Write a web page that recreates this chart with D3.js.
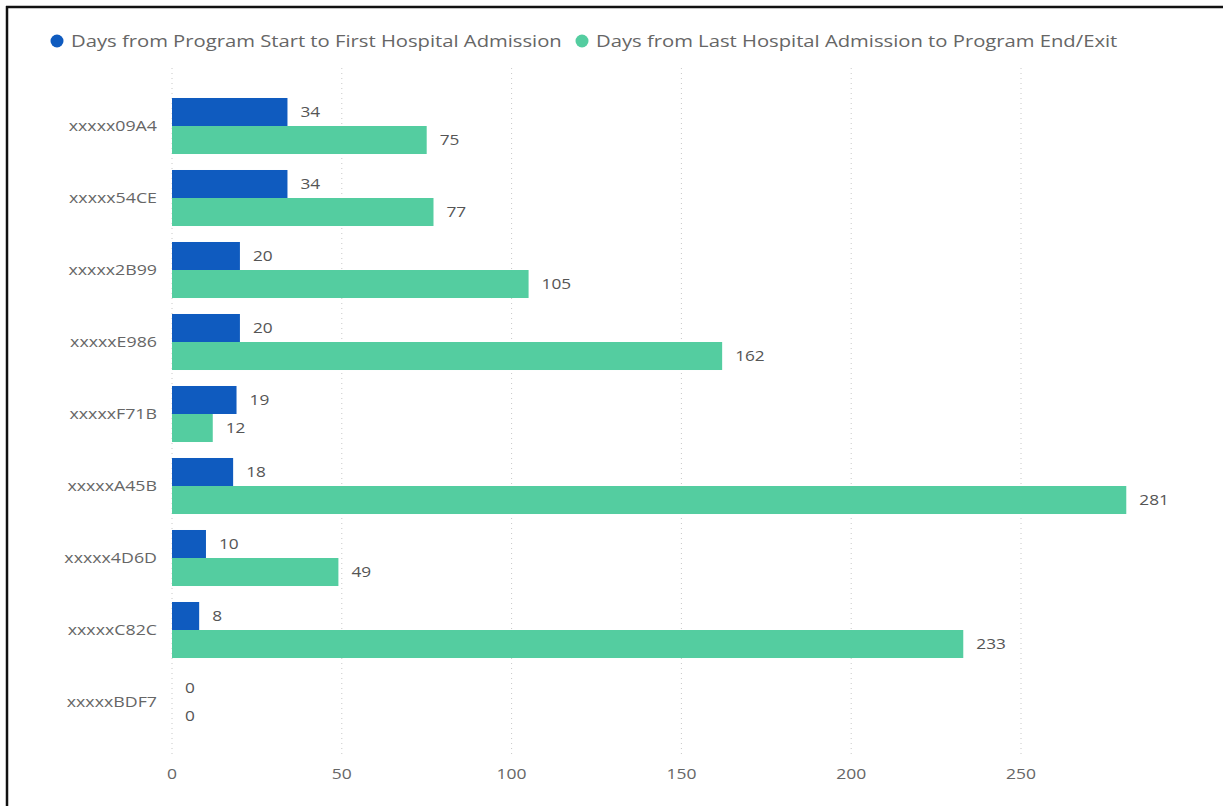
<!DOCTYPE html>
<html>
<head>
  <meta charset="utf-8">
  <title>Hospital admission days</title>
  <script src="https://d3js.org/d3.v7.min.js"></script>
  <style>
    body { margin: 0; background: #fff; }
    svg { display: block; font-family: "Segoe UI", "Open Sans", "Noto Sans", sans-serif; }
  </style>
</head>
<body>
<div id="chart"></div>
<script>
  // data
  const patients = ['xxxxx09A4', 'xxxxx54CE', 'xxxxx2B99', 'xxxxxE986', 'xxxxxF71B',
                    'xxxxxA45B', 'xxxxx4D6D', 'xxxxxC82C', 'xxxxxBDF7'];
  const startToFirst = [34, 34, 20, 20, 19, 18, 10, 8, 0];
  const lastToEnd = [75, 77, 105, 162, 12, 281, 49, 233, 0];
  const seriesNames = ['Days from Program Start to First Hospital Admission',
                       'Days from Last Hospital Admission to Program End/Exit'];
  const xTicks = [0, 50, 100, 150, 200, 250];

  const colors = ['#0f5bbf', '#54cda0'];
  const width = 1223, height = 806;
  const margin = { top: 90, right: 97, bottom: 68, left: 172 };

  const svg = d3.select('#chart').append('svg')
    .attr('width', width)
    .attr('height', height);

  // the screenshot is a bit stretched sideways, so text gets a horizontal scale
  const place = (sel, fx, fy, sx) => sel
    .attr('transform', (d, i) => `translate(${fx(d, i)},${fy(d, i)}) scale(${sx},1)`);

  // frame lines (top and left)
  svg.append('line').attr('x1', 6).attr('x2', width).attr('y1', 7).attr('y2', 7)
    .attr('stroke', '#111').attr('stroke-width', 2.5);
  svg.append('line').attr('x1', 7).attr('x2', 7).attr('y1', 6).attr('y2', height)
    .attr('stroke', '#111').attr('stroke-width', 2.5);

  const x = d3.scaleLinear().domain([0, 250]).range([margin.left, 1021]);
  const y = d3.scaleBand().domain(patients)
    .range([margin.top, height - margin.bottom]).paddingInner(0.222).paddingOuter(0.111);
  const sub = d3.scaleBand().domain([0, 1]).range([0, y.bandwidth()]);

  // grid
  svg.append('g').selectAll('line').data(xTicks).join('line')
    .attr('x1', d => x(d)).attr('x2', d => x(d))
    .attr('y1', 68).attr('y2', 757)
    .attr('stroke', '#c8c8c8').attr('stroke-dasharray', '1,4');

  svg.append('g').selectAll('text').data(xTicks).join('text')
    .call(place, d => x(d), () => 779, 1.25)
    .attr('text-anchor', 'middle')
    .attr('font-size', 14).attr('fill', '#666')
    .text(d => d);

  // category labels
  svg.append('g').selectAll('text').data(patients).join('text')
    .call(place, () => 157, d => y(d) + y.bandwidth() / 2 + 5, 1.27)
    .attr('text-anchor', 'end')
    .attr('font-size', 14).attr('fill', '#666')
    .text(d => d);

  const series = [startToFirst, lastToEnd];
  series.forEach((vals, s) => {
    const g = svg.append('g');
    g.selectAll('rect').data(vals).join('rect')
      .attr('x', x(0))
      .attr('y', (d, i) => y(patients[i]) + sub(s))
      .attr('width', d => x(d) - x(0))
      .attr('height', sub.bandwidth())
      .attr('fill', colors[s]);
    g.selectAll('text').data(vals).join('text')
      .call(place, d => x(d) + 13, (d, i) => y(patients[i]) + sub(s) + sub.bandwidth() / 2 + 5, 1.15)
      .attr('font-size', 15).attr('fill', '#555')
      .text(d => d);
  });

  // legend
  const legend = svg.append('g');
  const legendX = [57, 582];
  seriesNames.forEach((name, i) => {
    legend.append('circle').attr('cx', legendX[i]).attr('cy', 41).attr('r', 6.5).attr('fill', colors[i]);
    legend.append('text')
      .attr('transform', `translate(${legendX[i] + 14},47) scale(1.19,1)`)
      .attr('font-size', 17).attr('fill', '#666')
      .text(name);
  });
</script>
</body>
</html>
